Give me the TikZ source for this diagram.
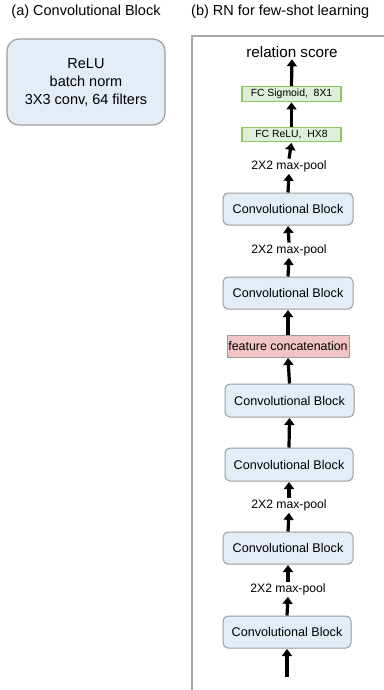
\documentclass[tikz,border=0pt]{standalone}
\usepackage{fontspec}
\setmainfont{Liberation Sans}
\usetikzlibrary{arrows.meta}
\definecolor{convfill}{HTML}{E4ECF7}
\definecolor{convdraw}{HTML}{9C9C9C}
\definecolor{fcfill}{HTML}{DDEEDA}
\definecolor{fcdraw}{HTML}{8CC85C}
\definecolor{catfill}{HTML}{F2C5C5}
\definecolor{framegray}{HTML}{AAAAAA}
\tikzset{
  convbox/.style={draw=convdraw, fill=convfill, line width=1pt, rounded corners=5pt,
    minimum width=130pt, minimum height=32pt, inner sep=0pt, font=\fontsize{12.6}{14}\selectfont},
  fcbox/.style={draw=fcdraw, fill=fcfill, line width=1.3pt,
    minimum width=99pt, minimum height=14.5pt, inner sep=0pt, font=\fontsize{10.4}{11}\selectfont},
  catbox/.style={draw=convdraw, fill=catfill, line width=1pt,
    minimum width=122pt, minimum height=22pt, inner sep=0pt, font=\fontsize{12.4}{14}\selectfont},
  poollab/.style={inner sep=1.5pt, font=\fontsize{12.2}{14}\selectfont},
  flow/.style={line width=3.2pt, -{Triangle[length=7pt,width=10pt]}, shorten >=0.5pt}
}
\begin{document}
\begin{tikzpicture}[x=1pt,y=-1pt]
\useasboundingbox (0,0) rectangle (383,690);
% titles
\node[font=\fontsize{14.5}{17}\selectfont] (ta) at (86,12) {(a) Convolutional Block};
\node[font=\fontsize{14.5}{17}\selectfont, anchor=west, inner sep=0pt] (tb) at (191,12) {(b) RN for few-shot learning};
% block (a)
\node[draw=convdraw, fill=convfill, line width=1.2pt, rounded corners=12pt,
  minimum width=158pt, minimum height=86pt, align=center,
  font=\fontsize{14.5}{18}\selectfont] (blocka) at (86,82)
  {ReLU\\batch norm\\3X3 conv, 64 filters};
% frame
\draw[framegray, line width=1.3pt] (192,690) -- (192,36) -- (384,36);
% network
\node[font=\fontsize{15.2}{17}\selectfont, inner sep=1pt] (score) at (292,52) {relation score};
\node[fcbox] (fc2) at (291.5,94) {FC Sigmoid,\ \ 8X1};
\node[fcbox] (fc1) at (291.5,134.5) {FC ReLU,\ \ HX8};
\node[poollab] (p1) at (289,166) {2X2 max-pool};
\node[convbox] (c1) at (288,209) {Convolutional Block};
\node[poollab] (p2) at (289,250) {2X2 max-pool};
\node[convbox] (c2) at (288,293) {Convolutional Block};
\node[catbox] (cat) at (288,346) {feature concatenation};
\node[convbox, minimum width=129pt, minimum height=33pt] (c3) at (289.5,400.5) {Convolutional Block};
\node[convbox, minimum width=128pt, minimum height=33pt] (c4) at (289,464.5) {Convolutional Block};
\node[poollab] (p3) at (289,505) {2X2 max-pool};
\node[convbox] (c5) at (288,548) {Convolutional Block};
\node[poollab] (p4) at (288,589) {2X2 max-pool};
\node[convbox, minimum width=128pt] (c6) at (287,632) {Convolutional Block};
\coordinate (in) at (287,677);
% arrows
\draw[flow] (fc2.north) -- (score.south);
\draw[flow] (fc1.north) -- (fc2.south);
\draw[flow] (p1.north) -- (fc1.south);
\draw[flow] (c1.north) -- (p1.south);
\draw[flow] (p2.north) -- (c1.south);
\draw[flow] (c2.north) -- (p2.south);
\draw[flow] (cat.north) -- (c2.south);
\draw[flow] (c3.north) -- (cat.south);
\draw[flow] (c4.north) -- (c3.south);
\draw[flow] (p3.north) -- (c4.south);
\draw[flow] (c5.north) -- (p3.south);
\draw[flow] (p4.north) -- (c5.south);
\draw[flow] (c6.north) -- (p4.south);
\draw[flow] (in) -- (c6.south);
\end{tikzpicture}
\end{document}
